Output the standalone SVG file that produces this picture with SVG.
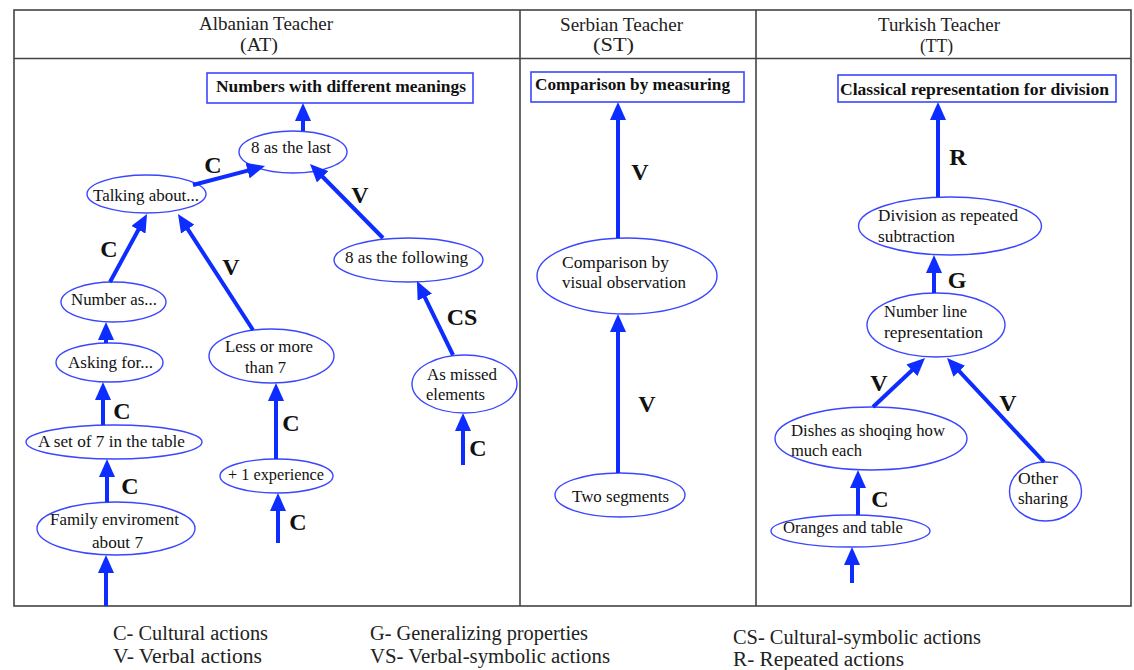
<svg xmlns="http://www.w3.org/2000/svg" width="1134" height="670" viewBox="0 0 1134 670">
<style>
.tbl{stroke:#444;stroke-width:1.6;fill:none}
.hdr{font-family:"Liberation Serif","Times New Roman",serif;font-size:18px;fill:#222}
.nt{font-family:"Liberation Serif","Times New Roman",serif;font-size:17px;fill:#111}
.ttl{font-family:"Liberation Serif","Times New Roman",serif;font-size:17.5px;font-weight:bold;fill:#111}
.lbl{font-family:"Liberation Serif","Times New Roman",serif;font-size:24px;font-weight:bold;fill:#111;text-anchor:middle}
.leg{font-family:"Liberation Serif","Times New Roman",serif;font-size:20px;fill:#222}
.node ellipse{fill:#fff;stroke:#3a46ff;stroke-width:1.4}
.node rect{fill:#fff;stroke:#3a46ff;stroke-width:1.6}
.edge{stroke:#0d2cff;stroke-width:4;fill:none;marker-end:url(#ah)}
</style>
<defs>
<marker id="ah" markerUnits="userSpaceOnUse" viewBox="0 0 18 16" markerWidth="18" markerHeight="16" refX="6" refY="8" orient="auto">
<path d="M0,0 L18,8 L0,16 Z" fill="#0d2cff"/>
</marker>
</defs>
<rect width="1134" height="670" fill="#fff"/>
<g id="table">
<rect class="tbl" x="14" y="10" width="1117" height="596"/>
<line class="tbl" x1="14" y1="58.5" x2="1131" y2="58.5"/>
<line class="tbl" x1="520" y1="10" x2="520" y2="606"/>
<line class="tbl" x1="756" y1="10" x2="756" y2="606"/>
<text class="hdr" x="199" y="30" textLength="134" lengthAdjust="spacingAndGlyphs">Albanian Teacher</text>
<text class="hdr" x="240" y="51" textLength="38" lengthAdjust="spacingAndGlyphs">(AT)</text>
<text class="hdr" x="560" y="31" textLength="123" lengthAdjust="spacingAndGlyphs">Serbian Teacher</text>
<text class="hdr" x="593" y="51" textLength="41" lengthAdjust="spacingAndGlyphs">(ST)</text>
<text class="hdr" x="878" y="31" textLength="122" lengthAdjust="spacingAndGlyphs">Turkish Teacher</text>
<text class="hdr" x="920" y="52" textLength="33" lengthAdjust="spacingAndGlyphs">(TT)</text>
</g>
<g id="n-numbers" class="node"><rect x="207" y="73" width="266" height="30"/><text class="ttl" x="216" y="92" textLength="250" lengthAdjust="spacingAndGlyphs">Numbers with different meanings</text></g>
<g id="n-8last" class="node"><ellipse cx="293" cy="152" rx="54" ry="21"/><text class="nt" x="251" y="153" textLength="80" lengthAdjust="spacingAndGlyphs">8 as the last</text></g>
<g id="n-talking" class="node"><ellipse cx="146.5" cy="194" rx="59.5" ry="19"/><text class="nt" x="93" y="201" textLength="106" lengthAdjust="spacingAndGlyphs">Talking about...</text></g>
<g id="n-8following" class="node"><ellipse cx="408.5" cy="260" rx="74.5" ry="22"/><text class="nt" x="345" y="263" textLength="123" lengthAdjust="spacingAndGlyphs">8 as the following</text></g>
<g id="n-numberas" class="node"><ellipse cx="113.5" cy="302" rx="52.5" ry="20"/><text class="nt" x="71" y="305" textLength="86" lengthAdjust="spacingAndGlyphs">Number as...</text></g>
<g id="n-asking" class="node"><ellipse cx="109.5" cy="362.5" rx="53.5" ry="19.5"/><text class="nt" x="68" y="368" textLength="85" lengthAdjust="spacingAndGlyphs">Asking for...</text></g>
<g id="n-lessmore" class="node"><ellipse cx="271.5" cy="356" rx="62.5" ry="27"/><text class="nt" x="225" y="352" textLength="88" lengthAdjust="spacingAndGlyphs">Less or more</text><text class="nt" x="245" y="373" textLength="41" lengthAdjust="spacingAndGlyphs">than 7</text></g>
<g id="n-missed" class="node"><ellipse cx="464.5" cy="384" rx="52.5" ry="29"/><text class="nt" x="427" y="380" textLength="70" lengthAdjust="spacingAndGlyphs">As missed</text><text class="nt" x="426" y="400" textLength="59" lengthAdjust="spacingAndGlyphs">elements</text></g>
<g id="n-aset" class="node"><ellipse cx="114" cy="442" rx="88" ry="17"/><text class="nt" x="38" y="447" textLength="147" lengthAdjust="spacingAndGlyphs">A set of 7 in the table</text></g>
<g id="n-plus1" class="node"><ellipse cx="276.5" cy="476" rx="56.5" ry="17"/><text class="nt" x="228" y="480" textLength="96" lengthAdjust="spacingAndGlyphs">+ 1 experience</text></g>
<g id="n-family" class="node"><ellipse cx="116" cy="528.5" rx="79" ry="26.5"/><text class="nt" x="50" y="525" textLength="129" lengthAdjust="spacingAndGlyphs">Family enviroment</text><text class="nt" x="92" y="548" textLength="51" lengthAdjust="spacingAndGlyphs">about 7</text></g>
<g id="n-measuring" class="node"><rect x="531" y="72" width="213" height="30"/><text class="ttl" x="535" y="90" textLength="195" lengthAdjust="spacingAndGlyphs">Comparison by measuring</text></g>
<g id="n-visual" class="node"><ellipse cx="627" cy="276" rx="90" ry="38"/><text class="nt" x="562" y="268" textLength="107" lengthAdjust="spacingAndGlyphs">Comparison by</text><text class="nt" x="562" y="288" textLength="124" lengthAdjust="spacingAndGlyphs">visual observation</text></g>
<g id="n-twoseg" class="node"><ellipse cx="620" cy="495" rx="65" ry="22"/><text class="nt" x="572" y="502" textLength="97" lengthAdjust="spacingAndGlyphs">Two segments</text></g>
<g id="n-classical" class="node"><rect x="838" y="75" width="278" height="27"/><text class="ttl" x="840" y="95" textLength="269" lengthAdjust="spacingAndGlyphs">Classical representation for division</text></g>
<g id="n-division" class="node"><ellipse cx="950" cy="226" rx="91.5" ry="29"/><text class="nt" x="878" y="221" textLength="140" lengthAdjust="spacingAndGlyphs">Division as repeated</text><text class="nt" x="878" y="242" textLength="77" lengthAdjust="spacingAndGlyphs">subtraction</text></g>
<g id="n-numline" class="node"><ellipse cx="936" cy="325" rx="69" ry="32"/><text class="nt" x="884" y="317" textLength="83" lengthAdjust="spacingAndGlyphs">Number line</text><text class="nt" x="884" y="338" textLength="99" lengthAdjust="spacingAndGlyphs">representation</text></g>
<g id="n-dishes" class="node"><ellipse cx="871" cy="438.5" rx="96" ry="31.5"/><text class="nt" x="791" y="436" textLength="154" lengthAdjust="spacingAndGlyphs">Dishes as shoqing how</text><text class="nt" x="791" y="456" textLength="71" lengthAdjust="spacingAndGlyphs">much each</text></g>
<g id="n-other" class="node"><ellipse cx="1045.5" cy="491.5" rx="36" ry="29.5"/><text class="nt" x="1018" y="484" textLength="40" lengthAdjust="spacingAndGlyphs">Other</text><text class="nt" x="1018" y="504" textLength="50" lengthAdjust="spacingAndGlyphs">sharing</text></g>
<g id="n-oranges" class="node"><ellipse cx="850.5" cy="531" rx="79.5" ry="16"/><text class="nt" x="783" y="533" textLength="120" lengthAdjust="spacingAndGlyphs">Oranges and table</text></g>
<g id="connectors">
<path class="edge" d="M303,131 L303,115"/>
<path class="edge" d="M193,185 L253.4,169.1"/>
<path class="edge" d="M383,238 L318.4,172.5"/>
<path class="edge" d="M110,282 L141.3,224.5"/>
<path class="edge" d="M253,330 L184.5,224.1"/>
<path class="edge" d="M106,343 L106,334"/>
<path class="edge" d="M103,425 L103,394"/>
<path class="edge" d="M107,502 L107,471"/>
<path class="edge" d="M106,606 L106,567"/>
<path class="edge" d="M276,459 L276,395"/>
<path class="edge" d="M278,543 L278,505"/>
<path class="edge" d="M453,355 L422.2,291.8"/>
<path class="edge" d="M463,465 L463,425"/>
<path class="edge" d="M618,238 L618,114"/>
<path class="edge" d="M618,473 L618,326"/>
<path class="edge" d="M938,197 L938,114"/>
<path class="edge" d="M934,293 L934,267"/>
<path class="edge" d="M873,407 L916.3,366.2"/>
<path class="edge" d="M1044,462 L955.2,366.8"/>
<path class="edge" d="M858,515 L858,482"/>
<path class="edge" d="M852,583 L852,559"/>
<text class="lbl" x="213" y="173">C</text>
<text class="lbl" x="360" y="203">V</text>
<text class="lbl" x="109" y="257">C</text>
<text class="lbl" x="231" y="275">V</text>
<text class="lbl" x="462" y="325">CS</text>
<text class="lbl" x="122" y="419">C</text>
<text class="lbl" x="291" y="431">C</text>
<text class="lbl" x="478" y="456">C</text>
<text class="lbl" x="130" y="494">C</text>
<text class="lbl" x="298" y="530">C</text>
<text class="lbl" x="640" y="180">V</text>
<text class="lbl" x="647" y="412">V</text>
<text class="lbl" x="958" y="165">R</text>
<text class="lbl" x="957" y="288">G</text>
<text class="lbl" x="879" y="391">V</text>
<text class="lbl" x="1008" y="411">V</text>
<text class="lbl" x="880" y="507">C</text>
</g>
<g id="legend">
<text class="leg" x="113" y="640" textLength="155" lengthAdjust="spacingAndGlyphs">C- Cultural actions</text>
<text class="leg" x="113" y="663" textLength="149" lengthAdjust="spacingAndGlyphs">V- Verbal actions</text>
<text class="leg" x="370" y="640" textLength="218" lengthAdjust="spacingAndGlyphs">G- Generalizing properties</text>
<text class="leg" x="370" y="663" textLength="240" lengthAdjust="spacingAndGlyphs">VS- Verbal-symbolic actions</text>
<text class="leg" x="733" y="644" textLength="248" lengthAdjust="spacingAndGlyphs">CS- Cultural-symbolic actions</text>
<text class="leg" x="733" y="666" textLength="171" lengthAdjust="spacingAndGlyphs">R- Repeated actions</text>
</g>
</svg>
